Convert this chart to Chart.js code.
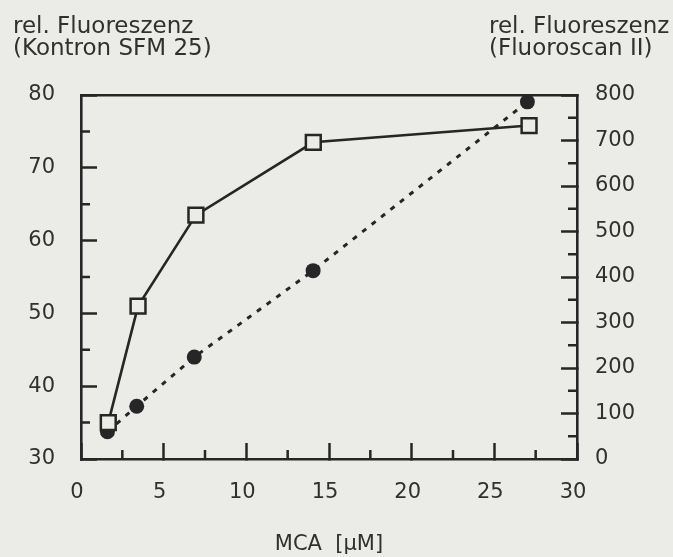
<!DOCTYPE html>
<html>
<head>
<meta charset="utf-8">
<script src="https://cdn.jsdelivr.net/npm/chart.js@4/dist/chart.umd.min.js"></script>
<style>
html,body{margin:0;padding:0;background:#ebebe7;}
canvas{display:block;}
</style>
</head>
<body>
<canvas id="c" width="673" height="557"></canvas>
<script>
// ---- data ----
const mcaKontron = [1.65, 3.45, 6.95, 14.05, 27.1];
const kontronValues = [35.0, 51.0, 63.5, 73.5, 75.8];
const mcaFluoroscan = [1.6, 3.37, 6.85, 14.04, 27.0];
const fluoroscanValues = [60, 116, 224, 414, 785];

const xTickLabels = [0, 5, 10, 15, 20, 25, 30];
const xMinorTicks = [2.5, 7.5, 12.5, 17.5, 22.5, 27.5];
const leftTickLabels = [30, 40, 50, 60, 70, 80];
const leftMinorTicks = [35, 45, 55, 65, 75];
const rightTickLabels = [0, 100, 200, 300, 400, 500, 600, 700, 800];
const rightMinorTicks = [50, 150, 250, 350, 450, 550, 650, 750];

const leftTitle = ['rel. Fluoreszenz', '(Kontron SFM 25)'];
const rightTitle = ['rel. Fluoreszenz', '(Fluoroscan II)'];
const xTitle = 'MCA  [\u03BCM]';

// ---- styling ----
const INK = '#262626';
const TEXT = '#303030';
const BG = '#ebebe7';
const FONT = 'DejaVu Sans';

const toPoints = (xs, ys) => xs.map((x, i) => ({x: x, y: ys[i]}));

const minorTickPlugin = {
  id: 'minorTicks',
  afterDraw(chart, args, opts) {
    const ctx = chart.ctx;
    const area = chart.chartArea;
    ctx.save();
    ctx.strokeStyle = INK;
    ctx.lineWidth = 2.5;
    const len = opts.len;
    const xs = chart.scales.x, yl = chart.scales.y, yr = chart.scales.y2;
    ctx.beginPath();
    xMinorTicks.forEach(v => {
      const p = xs.getPixelForValue(v);
      ctx.moveTo(p, area.bottom); ctx.lineTo(p, area.bottom - len);
    });
    leftMinorTicks.forEach(v => {
      const p = yl.getPixelForValue(v);
      ctx.moveTo(area.left, p); ctx.lineTo(area.left + len, p);
    });
    rightMinorTicks.forEach(v => {
      const p = yr.getPixelForValue(v);
      ctx.moveTo(area.right, p); ctx.lineTo(area.right - len, p);
    });
    ctx.stroke();
    ctx.restore();
  }
};

const axisTitlePlugin = {
  id: 'axisTitles',
  afterDraw(chart) {
    const ctx = chart.ctx;
    ctx.save();
    ctx.fillStyle = TEXT;
    ctx.font = '23px "' + FONT + '"';
    ctx.textBaseline = 'alphabetic';
    ctx.textAlign = 'left';
    ctx.fillText(leftTitle[0], 13, 33);
    ctx.fillText(leftTitle[1], 13, 55);
    ctx.fillText(rightTitle[0], 489, 33);
    ctx.fillText(rightTitle[1], 489, 55);
    ctx.restore();
  }
};

new Chart(document.getElementById('c'), {
  type: 'scatter',
  data: {
    datasets: [
      {
        label: 'Kontron SFM 25',
        data: toPoints(mcaKontron, kontronValues),
        yAxisID: 'y',
        showLine: true,
        borderColor: INK,
        borderWidth: 2.6,
        pointStyle: 'rect',
        pointRadius: 10.5,
        pointBorderWidth: 2.5,
        pointBorderColor: INK,
        pointBackgroundColor: BG,
        order: 1
      },
      {
        label: 'Fluoroscan II',
        data: toPoints(mcaFluoroscan, fluoroscanValues),
        yAxisID: 'y2',
        showLine: true,
        borderColor: INK,
        borderWidth: 3,
        borderDash: [5, 7],
        pointStyle: 'circle',
        pointRadius: 7.5,
        pointBorderWidth: 0,
        pointBackgroundColor: INK,
        order: 2
      }
    ]
  },
  options: {
    responsive: false,
    animation: false,
    devicePixelRatio: 1,
    layout: {padding: {top: 95, left: 0, right: 0, bottom: 0}},
    plugins: {
      legend: {display: false},
      tooltip: {enabled: false},
      minorTicks: {len: 9}
    },
    scales: {
      x: {
        type: 'linear', position: 'bottom', min: 0, max: 30,
        afterBuildTicks: s => { s.ticks = xTickLabels.map(v => ({value: v})); },
        afterFit: s => { s.height = 98; },
        ticks: {color: TEXT, font: {family: FONT, size: 21}, padding: 37, labelOffset: -4, maxRotation: 0, autoSkip: false},
        grid: {drawOnChartArea: false, drawTicks: true, tickLength: -16, tickWidth: 2.5, tickColor: INK},
        border: {display: true, color: INK, width: 2.6},
        title: {display: true, text: xTitle, color: TEXT, font: {family: FONT, size: 21}, padding: {top: 0, bottom: 0}}
      },
      x2: {
        type: 'linear', position: 'top', min: 0, max: 30,
        afterFit: s => { s.height = 0; },
        ticks: {display: false},
        grid: {drawOnChartArea: false, drawTicks: false},
        border: {display: true, color: INK, width: 2.6}
      },
      y: {
        type: 'linear', position: 'left', min: 30, max: 80,
        afterBuildTicks: s => { s.ticks = leftTickLabels.map(v => ({value: v})); },
        afterFit: s => { s.width = 81; },
        ticks: {color: TEXT, font: {family: FONT, size: 21}, padding: 42, autoSkip: false},
        grid: {drawOnChartArea: false, drawTicks: true, tickLength: -16, tickWidth: 2.5, tickColor: INK},
        border: {display: true, color: INK, width: 2.6}
      },
      y2: {
        type: 'linear', position: 'right', min: 0, max: 800,
        afterBuildTicks: s => { s.ticks = rightTickLabels.map(v => ({value: v})); },
        afterFit: s => { s.width = 96; },
        ticks: {color: TEXT, font: {family: FONT, size: 21}, padding: 34, autoSkip: false},
        grid: {drawOnChartArea: false, drawTicks: true, tickLength: -16, tickWidth: 2.5, tickColor: INK},
        border: {display: true, color: INK, width: 2.6}
      }
    }
  },
  plugins: [minorTickPlugin, axisTitlePlugin]
});
</script>
</body>
</html>
